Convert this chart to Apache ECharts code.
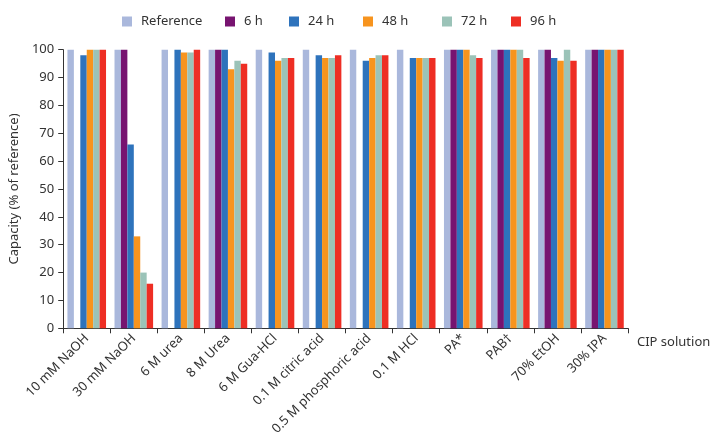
<!DOCTYPE html>
<html>
<head>
<meta charset="utf-8">
<script src="https://cdn.jsdelivr.net/npm/echarts@6/dist/echarts.min.js"></script>
<style>
  html, body { margin: 0; padding: 0; background: #fff; }
  #chart { width: 723px; height: 438px; }
</style>
</head>
<body>
<div id="chart"></div>
<script>
// CIP solutions tested
const categories = ['10 mM NaOH', '30 mM NaOH', '6 M urea', '8 M Urea', '6 M Gua-HCl',
  '0.1 M citric acid', '0.5 M phosphoric acid', '0.1 M HCl', 'PA*', 'PAB\u2020', '70% EtOH', '30% IPA'];

// Capacity (% of reference) after each exposure time; null = not measured
const reference = [100, 100, 100, 100, 100, 100, 100, 100, 100, 100, 100, 100];
const h6  = [null, 100, null, 100, null, null, null, null, 100, 100, 100, 100];
const h24 = [98, 66, 100, 100, 99, 98, 96, 97, 100, 100, 97, 100];
const h48 = [100, 33, 99, 93, 96, 97, 97, 97, 100, 100, 96, 100];
const h72 = [100, 20, 99, 96, 97, 97, 98, 97, 98, 100, 100, 100];
const h96 = [100, 16, 100, 95, 97, 98, 98, 97, 97, 97, 96, 100];

const yTicks = [0, 10, 20, 30, 40, 50, 60, 70, 80, 90, 100];

const seriesNames = ['Reference', '6 h', '24 h', '48 h', '72 h', '96 h'];
const seriesData = [reference, h6, h24, h48, h72, h96];
const colors = ['#aab8dc', '#771470', '#2e73bc', '#f7941e', '#9bc3b8', '#ee2e24'];
const legendLeft = [117, 220, 284, 358, 437, 506];

const font = '"Noto Sans", "Open Sans", sans-serif';
const textColor = '#333';

const chart = echarts.init(document.getElementById('chart'), null, { renderer: 'canvas' });

const legends = seriesNames.map((name, i) => ({
  data: [name],
  left: legendLeft[i],
  top: 10,
  itemWidth: 10,
  itemHeight: 10,
  itemGap: 0,
  icon: 'rect',
  textStyle: { fontFamily: font, fontSize: 13, color: textColor, padding: [0, 0, 0, 4] }
}));

chart.setOption({
  animation: false,
  color: colors,
  legend: legends,
  grid: { left: 58, right: 95, top: 49.7, bottom: 109.7 },
  xAxis: {
    type: 'category',
    data: categories,
    name: 'CIP solution',
    nameLocation: 'end',
    nameGap: 9,
    nameTextStyle: { fontFamily: font, fontSize: 13, color: textColor, verticalAlign: 'top', padding: [7, 0, 0, 0] },
    axisLine: { lineStyle: { color: '#333', width: 1 } },
    axisTick: { show: true, length: 5, lineStyle: { color: '#333' } },
    axisLabel: { rotate: 45, fontFamily: font, fontSize: 13, color: textColor, margin: 8, interval: 0 }
  },
  yAxis: {
    type: 'value',
    min: yTicks[0],
    max: yTicks[yTicks.length - 1],
    interval: 10,
    name: 'Capacity (% of reference)',
    nameLocation: 'middle',
    nameGap: 30,
    nameTextStyle: { fontFamily: font, fontSize: 13, color: textColor },
    axisLine: { show: true, lineStyle: { color: '#333', width: 1 } },
    axisTick: { show: true, length: 5, lineStyle: { color: '#333' } },
    axisLabel: { fontFamily: font, fontSize: 13, color: textColor, margin: 9 },
    splitLine: { show: false }
  },
  series: seriesNames.map((name, i) => ({
    name: name,
    type: 'bar',
    data: seriesData[i],
    barGap: '0%',
    barCategoryGap: '18%',
    itemStyle: { color: colors[i] }
  }))
});
</script>
</body>
</html>
